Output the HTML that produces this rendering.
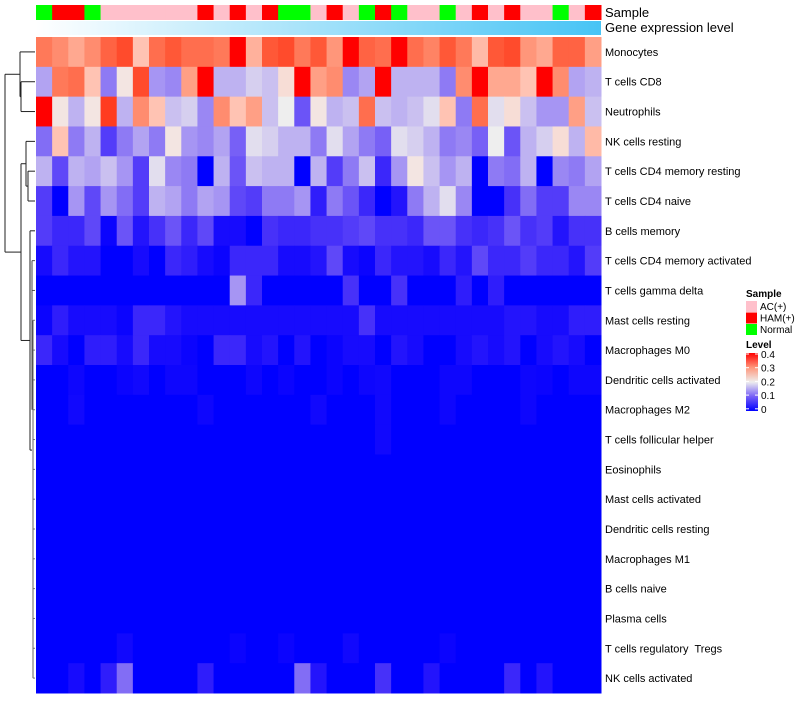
<!DOCTYPE html>
<html><head><meta charset="utf-8"><style>
body{margin:0;background:#fff;width:800px;height:700px;overflow:hidden;font-family:"Liberation Sans",sans-serif}
svg text{font-family:"Liberation Sans",sans-serif;white-space:pre}
</style></head><body>
<svg id="chart" width="800" height="700" xmlns="http://www.w3.org/2000/svg"></svg>
<script>
const rowLabels=["Monocytes","T cells CD8","Neutrophils","NK cells resting","T cells CD4 memory resting","T cells CD4 naive","B cells memory","T cells CD4 memory activated","T cells gamma delta","Mast cells resting","Macrophages M0","Dendritic cells activated","Macrophages M2","T cells follicular helper","Eosinophils","Mast cells activated","Dendritic cells resting","Macrophages M1","B cells naive","Plasma cells","T cells regulatory  Tregs","NK cells activated"];
const sampleGroups=["N","H","H","N","A","A","A","A","A","A","H","A","H","A","H","N","N","A","H","A","N","H","N","A","A","N","A","H","A","H","A","A","N","A","H"];
const rMono=[.33,.31,.28,.31,.35,.37,.25,.34,.36,.34,.34,.33,.4,.27,.36,.37,.33,.36,.3,.4,.35,.34,.4,.34,.32,.36,.33,.26,.36,.37,.3,.28,.35,.35,.29];
const rCD8=[.15,.33,.34,.25,.12,.21,.37,.14,.13,.29,.4,.16,.16,.18,.17,.22,.4,.29,.31,.13,.15,.4,.16,.16,.16,.12,.31,.4,.28,.28,.25,.4,.31,.15,.16];
const rNeut=[.4,.21,.16,.21,.38,.16,.31,.25,.17,.18,.13,.31,.25,.29,.17,.2,.09,.21,.16,.17,.34,.17,.16,.17,.19,.25,.12,.34,.19,.22,.17,.14,.14,.29,.17];
const rNKr=[.11,.25,.12,.16,.07,.12,.15,.12,.21,.14,.13,.15,.1,.19,.18,.16,.16,.12,.19,.15,.12,.1,.19,.18,.16,.12,.13,.1,.2,.09,.16,.18,.22,.16,.26];
const rCD4mr=[.16,.08,.16,.15,.17,.14,.07,.19,.13,.12,0,.16,.09,.17,.16,.16,0,.16,.07,.12,.17,.05,.14,.21,.17,.14,.16,0,.12,.11,.16,0,.13,.12,.15];
const rCD4n=[.07,0,.14,.08,.14,.11,.07,.16,.15,.12,.15,.14,.08,.07,.12,.12,.14,.04,.12,.09,.05,0,.03,.12,.16,.19,.13,0,0,.06,.11,.07,.07,.13,.13];
const rBmem=[.07,.05,.05,.08,.01,.09,.03,.06,.09,.05,.08,.02,.02,0,.06,.05,.05,.06,.06,.07,.08,.06,.06,.05,.09,.09,.06,.05,.06,.09,.06,.07,.03,.06,.06];
const rCD4ma=[.02,.05,.03,.03,0,0,.02,0,.05,.04,.02,.01,.05,.05,.05,.02,.02,.03,.08,.02,.01,.05,.03,.03,.02,.05,.03,.08,.05,.05,.07,.05,.05,.03,.07];
const rGD=[0,0,0,0,0,0,0,0,0,0,0,0,.14,.05,0,0,0,0,0,.06,0,0,.06,0,0,0,.04,0,.04,0,0,0,0,0,0];
const rMast=[.01,.04,.02,.02,.02,.01,.05,.05,.03,.02,.02,.02,.02,.02,.02,.02,.02,.02,.02,.02,.06,.02,.02,.02,.02,.02,.02,.02,.02,.03,.03,.02,.02,.04,.04];
const rM0=[.05,.02,0,.04,.04,.02,.05,.02,.02,.01,0,.05,.05,.02,.03,0,.03,0,.01,.02,.02,0,.03,.02,0,0,.02,.03,.02,.03,0,.02,.03,.02,0];
const rDCa=[0,0,.012,0,0,.01,.015,0,.012,.012,0,0,0,.012,0,.01,0,0,.01,0,.012,.015,0,0,0,.012,.012,0,0,0,.012,.01,0,.012,.012];
const rM2=[0,0,.015,0,0,0,0,0,0,0,.012,0,0,0,0,0,0,.015,0,0,0,.015,0,0,0,.012,0,0,0,0,.012,0,0,0,0];
const rTfh=[0,0,0,0,0,0,0,0,0,0,0,0,0,0,0,0,0,0,0,0,0,.015,0,0,0,0,0,0,0,0,0,0,0,0,0];
const rZero=[0,0,0,0,0,0,0,0,0,0,0,0,0,0,0,0,0,0,0,0,0,0,0,0,0,0,0,0,0,0,0,0,0,0,0];
const rTreg=[0,0,0,0,0,.015,0,0,0,0,0,0,.01,0,0,.01,0,0,0,.015,0,0,0,0,0,.01,0,0,0,0,0,0,0,0,0];
const rNKa=[0,0,.02,0,.04,.11,0,0,0,0,.04,0,0,0,0,0,.11,.03,0,0,0,.06,0,0,.03,0,0,0,0,.05,0,.03,0,0,0];
const matrix=[rMono,rCD8,rNeut,rNKr,rCD4mr,rCD4n,rBmem,rCD4ma,rGD,rMast,rM0,rDCa,rM2,rTfh,rZero,rZero,rZero,rZero,rZero,rZero,rTreg,rNKa];
const levelTicks=["0.4","0.3","0.2","0.1","0"];

const NS="http://www.w3.org/2000/svg";
const svg=document.getElementById('chart');
function mk(tag,attrs,parent){const e=document.createElementNS(NS,tag);for(const k in attrs)e.setAttribute(k,attrs[k]);(parent||svg).appendChild(e);return e;}
const X0=36,X1=601,Y0=37,Y1=693;
const nC=sampleGroups.length,nR=rowLabels.length;
const cw=(X1-X0)/nC,rh=(Y1-Y0)/nR;
const xc=i=>X0+i*cw, yr=j=>Y0+j*rh;
function lin(c){c/=255;return c<=0.04045?c/12.92:Math.pow((c+0.055)/1.055,2.4);}
function unlin(c){c=c<=0.0031308?12.92*c:1.055*Math.pow(c,1/2.4)-0.055;return Math.round(Math.max(0,Math.min(1,c))*255);}
function toLab(r,g,b){r=lin(r);g=lin(g);b=lin(b);
 let x=(r*0.4124+g*0.3576+b*0.1805)/0.95047,y=r*0.2126+g*0.7152+b*0.0722,z=(r*0.0193+g*0.1192+b*0.9505)/1.08883;
 const f=t=>t>0.008856?Math.cbrt(t):7.787*t+16/116;x=f(x);y=f(y);z=f(z);return[116*y-16,500*(x-y),200*(y-z)];}
function fromLab(L,a,bb){let y=(L+16)/116,x=a/500+y,z=y-bb/200;
 const fi=t=>t*t*t>0.008856?t*t*t:(t-16/116)/7.787;x=fi(x)*0.95047;y=fi(y);z=fi(z)*1.08883;
 const r=x*3.2406+y*-1.5372+z*-0.4986,g=x*-0.9689+y*1.8758+z*0.0415,b=x*0.0557+y*-0.2040+z*1.0570;
 return`rgb(${unlin(r)},${unlin(g)},${unlin(b)})`;}
const LW=toLab(238,238,238),LR=toLab(255,0,0);
function col(v){v=Math.max(0,Math.min(0.4,v));
 if(v<=0.2){const t=v/0.2;const r=238*t,g=238*Math.pow(t,1.3),b=255-17*t;return`rgb(${r|0},${g|0},${b|0})`;}
 const t=(v-0.2)/0.2;const a=LW,b=LR;
 return fromLab(a[0]+(b[0]-a[0])*t,a[1]+(b[1]-a[1])*t,a[2]+(b[2]-a[2])*t);}
const gcol={A:"#ffc0cb",H:"#ff0000",N:"#00ff00"};
for(let i=0;i<nC;i++){const e=mk('rect',{x:xc(i),y:5,width:cw+0.5,height:15,fill:gcol[sampleGroups[i]]});

}
const defs=mk('defs',{});const lg=mk('linearGradient',{id:'ge',x1:0,x2:1,y1:0,y2:0},defs);
mk('stop',{offset:0,'stop-color':'#ffffff'},lg);mk('stop',{offset:1,'stop-color':'#47c4f5'},lg);
const ge=mk('rect',{x:X0,y:21,width:X1-X0,height:14,fill:'url(#ge)'});


const t1=mk('text',{x:605,y:17,'font-size':13,fill:'#000'});t1.textContent='Sample';


const t2=mk('text',{x:605,y:32,'font-size':13,fill:'#000'});t2.textContent='Gene expression level';


for(let j=0;j<nR;j++){for(let i=0;i<nC;i++){
 const e=mk('rect',{x:xc(i),y:yr(j),width:cw+0.5,height:rh+0.5,fill:col(matrix[j][i])});
 
 }
 const t=mk('text',{x:605,y:yr(j)+rh/2+4,'font-size':11,fill:'#000'});t.textContent=rowLabels[j];
 
 }
const dg=mk('g',{stroke:'#222','stroke-width':1,fill:'none'});


const cy=j=>yr(j)+rh/2;
function L(x1,y1,x2,y2,c){mk('line',{x1,y1,x2,y2,stroke:c||'#222'},dg);}
const nCD=(cy(1)+cy(2))/2, nA=(cy(0)+nCD)/2;
L(21,cy(1),35,cy(1));L(21,cy(2),35,cy(2));L(21,cy(1),21,cy(2));
L(20,cy(0),35,cy(0));L(20,nCD,21,nCD);L(20,cy(0),20,nCD);
const nB1s=(cy(4)+cy(5))/2;L(28,cy(4),35,cy(4));L(28,cy(5),35,cy(5));L(28,cy(4),28,cy(5));
const nB1=(cy(3)+nB1s)/2;L(26,cy(3),35,cy(3));L(26,nB1s,28,nB1s);L(26,cy(3),26,nB1s);
L(32,cy(7),35,cy(7),'#555');L(32,cy(8),35,cy(8),'#555');
for(let j=9;j<nR;j++)L(33,cy(j),35,cy(j),'#777');
L(33,cy(9),33,cy(nR-1),'#666');L(32,cy(7),32,cy(12),'#444');
const nB2=cy(10);L(30,cy(6),35,cy(6));L(30,cy(6),30,nB2+100);L(30,nB2+100,32,nB2+100);
const nB2m=(cy(6)+nB2+100)/2;
L(21,nB1,26,nB1);L(21,nB2m,30,nB2m);L(21,nB1,21,nB2m);
const nBm=(nB1+nB2m)/2;
L(5,nA,20,nA);L(5,nBm,21,nBm);L(5,nA,5,nBm);
const lgG=mk('g',{});


const s=mk('text',{x:746,y:297,'font-size':10,'font-weight':'bold'},lgG);s.textContent='Sample';
[["AC(+)","A"],["HAM(+)","H"],["Normal","N"]].forEach((d,k)=>{
 const r=mk('rect',{x:746,y:301+k*11.5,width:11,height:11,fill:gcol[d[1]]},lgG);
 
 
 const t=mk('text',{x:760,y:310+k*11.5,'font-size':10},lgG);t.textContent=d[0];
 
 });
const lv=mk('text',{x:746,y:348,'font-size':10,'font-weight':'bold'},lgG);lv.textContent='Level';
const lg2=mk('linearGradient',{id:'lv',x1:0,x2:0,y1:0,y2:1},defs);
[0,0.25,0.5,0.75,1].forEach(o=>mk('stop',{offset:o,'stop-color':col(0.4*(1-o))},lg2));
mk('rect',{x:746,y:353,width:12,height:58,fill:'url(#lv)'},lgG);
levelTicks.forEach((t,k)=>{const yy=354+k*13.7;
 mk('line',{x1:746,x2:749,y1:yy,y2:yy,stroke:'#fff'},lgG);mk('line',{x1:755,x2:758,y1:yy,y2:yy,stroke:'#fff'},lgG);
 const e=mk('text',{x:761,y:yy+4,'font-size':10},lgG);e.textContent=t;
 
 });
</script>
</body></html>
